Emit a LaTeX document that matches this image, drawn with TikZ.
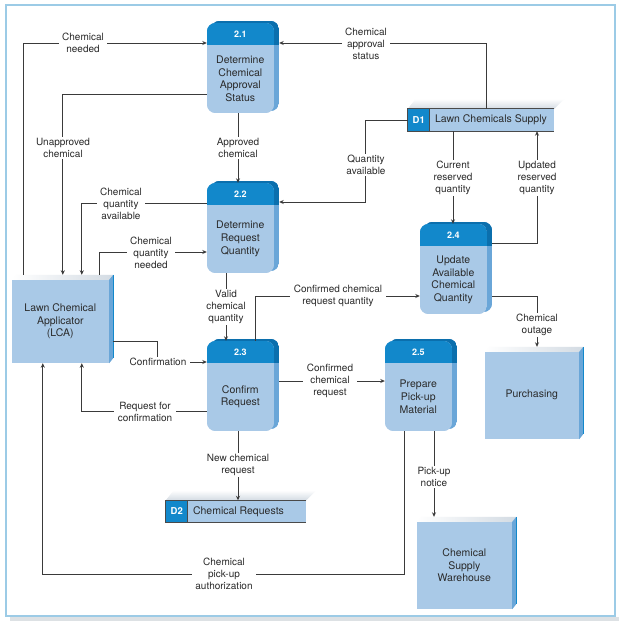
\documentclass[tikz,border=0pt]{standalone}
\usepackage{fontspec}
\setmainfont{TeX Gyre Heros}
\usetikzlibrary{arrows.meta}
\definecolor{hdr}{HTML}{1288CB}
\definecolor{body}{HTML}{A9C9E7}
\definecolor{sidebody}{HTML}{6AA6D8}
\definecolor{sidehdr}{HTML}{0B6FAD}
\definecolor{topgrey}{HTML}{D3DBE3}
\definecolor{linec}{HTML}{3A3A3A}
\definecolor{txt}{HTML}{2A2A2A}
\definecolor{framec}{HTML}{9CCBE6}
\definecolor{shadowgrey}{HTML}{DDE1E4}
\definecolor{storeline}{HTML}{4A4A4A}

\newcommand\procshape[5]{%
  \node[procnode] (#1) at (#2,#3) {};
  \shade[top color=white, bottom color=topgrey, rounded corners=9pt] ([shift={(4,-5)}]#1.north west) rectangle ([shift={(-2,-6)}]#1.south east);
  \begin{scope}
    \clip[rounded corners=9pt] ([shift={(4,-2)}]#1.north west) rectangle ([shift={(0,-2)}]#1.south east);
    \fill[sidebody] ([shift={(4,-2)}]#1.north west) rectangle ([shift={(0,-2)}]#1.south east);
    \fill[sidehdr] ([shift={(4,-2)}]#1.north west) rectangle ([shift={(0,22)}]#1.north east);
  \end{scope}
  \begin{scope}
    \clip[rounded corners=9pt] (#1.north west) rectangle ([shift={(-5,0)}]#1.south east);
    \fill[body] (#1.north west) rectangle ([shift={(-5,0)}]#1.south east);
    \fill[hdr] (#1.north west) rectangle ([shift={(-5,22)}]#1.north east);
  \end{scope}
  \node[numtext] (#1-n) at ([shift={(33.5,11)}]#1.north west) {#4};
  \node[proctext] (#1-t) at ([shift={(33.5,56)}]#1.north west) {#5};
}
\newcommand\entshape[6]{%
  \node[entnode, minimum width=#4pt, minimum height=#5pt] (#1) at (#2,#3) {};
  \shade[left color=white, right color=topgrey] ([shift={(0,5)}]#1.north west) -- ([shift={(5,0)}]#1.north west) -- (#1.north east) -- ([shift={(-4,5)}]#1.north east) -- cycle;
  \fill[sidebody] ([shift={(-4,5)}]#1.north east) -- (#1.north east) -- ([shift={(0,-5)}]#1.south east) -- ([shift={(-4,0)}]#1.south east) -- cycle;
  \draw[hdr, line width=0.8pt] (#1.north east) -- ([shift={(0,-5)}]#1.south east);
  \fill[body] ([shift={(0,5)}]#1.north west) rectangle ([shift={(-4,0)}]#1.south east);
  \node[enttext] (#1-t) at ([shift={({(#4-4)/2},{(#5+5)/2})}]#1.north west) {#6};
}
\newcommand\storeshape[6]{%
  \node[storenode, minimum width=#4pt] (#1) at (#2,#3) {};
  \shade[top color=white, bottom color=topgrey] (#1.north west) -- ([shift={(8,-10)}]#1.north west) -- ([shift={(10,-10)}]#1.north east) -- (#1.north east) -- cycle;
  \fill[body] (#1.north west) rectangle (#1.south east);
  \fill[hdr] (#1.north west) rectangle ([shift={(22,0)}]#1.south west);
  \draw[storeline, line width=1pt] (#1.north east) -- (#1.north west) -- (#1.south west) -- (#1.south east);
  \draw[storeline, line width=1pt] ([shift={(22,0)}]#1.north west) -- ([shift={(22,0)}]#1.south west);
  \node[storeid] (#1-i) at ([shift={(11,0)}]#1.west) {#5};
  \node[storetext] (#1-t) at ([shift={(27,0)}]#1.west) {#6};
}

\begin{document}
\begin{tikzpicture}[x=1pt,y=-1pt,
  flow/.style={draw=linec, line width=0.9pt, -{Stealth[length=4.5pt,width=4pt]}},
  lbl/.style={fill=white, inner xsep=3.5pt, inner ysep=1pt, align=center, text=txt, font=\fontsize{10}{12.2}\selectfont},
  procnode/.style={rectangle, minimum width=72pt, minimum height=90pt, inner sep=0pt, draw=none},
  entnode/.style={rectangle, inner sep=0pt, draw=none},
  storenode/.style={rectangle, minimum height=22pt, inner sep=0pt, draw=none},
  numtext/.style={text=white, font=\bfseries\fontsize{9}{10}\selectfont, inner sep=0pt},
  proctext/.style={text=txt, align=center, font=\fontsize{10.5}{12.7}\selectfont, inner sep=0pt},
  enttext/.style={text=txt, align=center, font=\fontsize{10.5}{12.2}\selectfont, inner sep=0pt},
  storeid/.style={text=white, font=\bfseries\fontsize{9.5}{10}\selectfont, inner sep=0pt},
  storetext/.style={text=txt, anchor=west, font=\fontsize{10.5}{12}\selectfont, inner sep=0pt}
]
\useasboundingbox (0,0) rectangle (619,621);
\fill[white] (0,0) rectangle (619,621);
\fill[shadowgrey] (10,617) rectangle (619,621);
\draw[framec, line width=1.5pt] (6,5) rectangle (615,616);

% processes
\procshape{p21}{243}{68}{2.1}{Determine\\Chemical\\Approval\\Status}
\procshape{p22}{243}{228}{2.2}{Determine\\Request\\Quantity}
\procshape{p23}{243}{386}{2.3}{Confirm\\Request}
\procshape{p24}{456}{269}{2.4}{Update\\Available\\Chemical\\Quantity}
\procshape{p25}{421}{386}{2.5}{Prepare\\Pick-up\\Material}

% entities
\entshape{lca}{62.5}{319}{101}{88}{Lawn Chemical\\Applicator\\(LCA)}
\entshape{pur}{534}{393}{98}{92}{Purchasing}
\entshape{wh}{466.5}{563}{99}{92}{Chemical\\Supply\\Warehouse}

% data stores
\storeshape{d1}{481}{120}{146}{D1}{Lawn Chemicals Supply}
\storeshape{d2}{236}{511.5}{140}{D2}{Chemical Requests}

% connectors
\draw[flow] ([xshift=12pt]lca.north west) |- ([yshift=25pt]p21.west);
\draw[flow] ([xshift=5pt]d1.north) |- ([yshift=25pt]p21.east);
\draw[flow] ([yshift=-26pt]p21.west) -| ([xshift=51pt]lca.north west);
\draw[flow] ([xshift=-5pt]p21.south) -- ([xshift=-5pt]p22.north);
\draw[flow] ([yshift=25pt]p22.west) -| ([xshift=70pt]lca.north west);
\draw[flow] (d1.west) -- ++(-42,0) |- ([yshift=26pt]p22.east);
\draw[flow] ([xshift=88pt]lca.north west) |- ([yshift=-24pt]p22.west);
\coordinate (c8) at ([xshift=-3pt]p24.north);
\draw[flow] (c8 |- d1.south) -- (c8);
\draw[flow] ([yshift=26pt]p24.east) -| ([xshift=56pt]d1.south);
\draw[flow] ([xshift=-17pt]p22.south) -- ([xshift=-17pt]p23.north);
\draw[flow] ([xshift=12pt]p23.north) |- ([yshift=-27pt]p24.west);
\draw[flow] ([yshift=-22pt]lca.east) -| ([xshift=-49pt,yshift=24pt]p23.west) -- ([yshift=24pt]p23.west);
\draw[flow] ([yshift=-25pt]p23.west) -| ([xshift=70pt]lca.south west);
\draw[flow] ([yshift=-27pt]p24.east) -| ([xshift=3pt]pur.north);
\coordinate (c15) at ([yshift=5pt]p23.east);
\draw[flow] (c15) -- (c15 -| p25.west);
\coordinate (c16) at ([xshift=-5pt]p23.south);
\draw[flow] (c16) -- (c16 |- d2.north);
\coordinate (c17) at ([xshift=13pt]p25.south);
\draw[flow] (c17) -- (c17 |- wh.north);
\draw[flow] ([xshift=-17pt]p25.south) -- ++(0,143) -| ([xshift=31pt]lca.south west);

% labels
\node[lbl] (l1) at (83,43) {Chemical\\needed};
\node[lbl] (l2) at (366,44) {Chemical\\approval\\status};
\node[lbl] (l3) at (63,148) {Unapproved\\chemical};
\node[lbl] (l4) at (238,148) {Approved\\chemical};
\node[lbl] (l5) at (121,204) {Chemical\\quantity\\available};
\node[lbl] (l6) at (366,165) {Quantity\\available};
\node[lbl] (l7) at (151,253) {Chemical\\quantity\\needed};
\node[lbl] (l8) at (453,178) {Current\\reserved\\quantity};
\node[lbl] (l9) at (537,178) {Updated\\reserved\\quantity};
\node[lbl] (l10) at (226,307) {Valid\\chemical\\quantity};
\node[lbl] (l11) at (338,296) {Confirmed chemical\\request quantity};
\node[lbl] (l12) at (158,362) {Confirmation};
\node[lbl] (l13) at (145,412) {Request for\\confirmation};
\node[lbl] (l14) at (537,325) {Chemical\\outage};
\node[lbl] (l15) at (330,381) {Confirmed\\chemical\\request};
\node[lbl] (l16) at (238,465) {New chemical\\request};
\node[lbl] (l17) at (434,477) {Pick-up\\notice};
\node[lbl] (l18) at (224,574) {Chemical\\pick-up\\authorization};
\end{tikzpicture}
\end{document}
